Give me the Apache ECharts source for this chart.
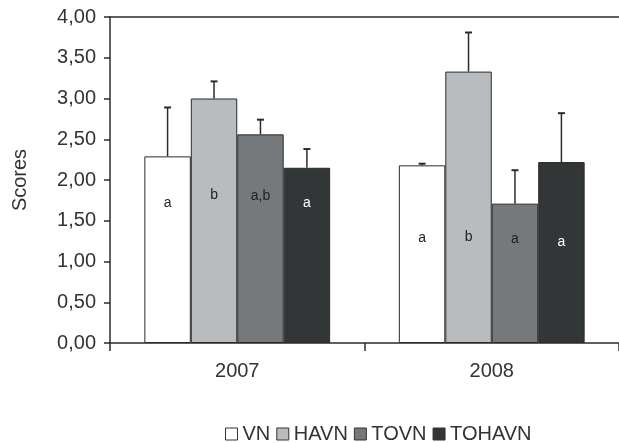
<!DOCTYPE html>
<html>
<head>
<meta charset="utf-8">
<script src="https://cdn.jsdelivr.net/npm/echarts@6/dist/echarts.min.js"></script>
<style>
  html, body { margin: 0; padding: 0; background: #fff; }
  #main { width: 619px; height: 443px; }
</style>
</head>
<body>
<div id="main"></div>
<script>
// jaren + groepen
var years = ['2007', '2008'];
var groups = ['VN', 'HAVN', 'TOVN', 'TOHAVN'];
var colors = ['#ffffff', '#b9bcbe', '#76797b', '#323637'];

// gemiddelde scores per groep (2007, 2008)
var meanVN = [2.29, 2.18];
var meanHAVN = [3.00, 3.33];
var meanTOVN = [2.56, 1.71];
var meanTOHAVN = [2.15, 2.22];

// bovenkant foutbalk
var errVN = [2.89, 2.20];
var errHAVN = [3.21, 3.81];
var errTOVN = [2.74, 2.12];
var errTOHAVN = [2.38, 2.82];

// letters (significantie) en hoogte waarop ze staan
var lettersVN = ['a', 'a'];
var lettersHAVN = ['b', 'b'];
var lettersTOVN = ['a,b', 'a'];
var lettersTOHAVN = ['a', 'a'];
var letterLevel = [[1.72, 1.29], [1.81, 1.30], [1.80, 1.27], [1.71, 1.24]];

var yTicks = [0, 0.5, 1, 1.5, 2, 2.5, 3, 3.5, 4];

var means = [meanVN, meanHAVN, meanTOVN, meanTOHAVN];
var errs = [errVN, errHAVN, errTOVN, errTOHAVN];
var letters = [lettersVN, lettersHAVN, lettersTOVN, lettersTOHAVN];

var catGap = 0.27;
var fontName = 'Liberation Sans';

function errorSeries(i) {
    var data = [];
    for (var c = 0; c < years.length; c++) {
        data.push([c, means[i][c], errs[i][c], letterLevel[i][c]]);
    }
    return {
        type: 'custom',
        name: groups[i] + '_err',
        z: 5,
        silent: true,
        data: data,
        renderItem: function (params, api) {
            var c = api.value(0);
            var bw = api.size([1, 0])[0] * (1 - catGap) / groups.length;
            var base = api.coord([c, api.value(1)]);
            var top = api.coord([c, api.value(2)]);
            var lab = api.coord([c, api.value(3)]);
            var x = base[0] + (i - (groups.length - 1) / 2) * bw;
            var stroke = { stroke: '#2b2b2b', lineWidth: 1.5 };
            return {
                type: 'group',
                children: [
                    { type: 'line', shape: { x1: x, y1: base[1], x2: x, y2: top[1] }, style: stroke },
                    { type: 'line', shape: { x1: x - 3.5, y1: top[1], x2: x + 3.5, y2: top[1] }, style: { stroke: '#2b2b2b', lineWidth: 2 } },
                    {
                        type: 'text',
                        x: x, y: lab[1],
                        style: {
                            text: letters[i][c],
                            fill: i === 3 ? '#ffffff' : '#222',
                            font: '14px "Liberation Sans"',
                            align: 'center',
                            verticalAlign: 'middle'
                        }
                    }
                ]
            };
        }
    };
}

var series = [];
for (var i = 0; i < groups.length; i++) {
    series.push({
        name: groups[i],
        type: 'bar',
        barGap: 0,
        barCategoryGap: (catGap * 100) + '%',
        data: means[i],
        itemStyle: { color: colors[i], borderColor: '#2b2b2b', borderWidth: 1 }
    });
}
for (var j = 0; j < groups.length; j++) {
    series.push(errorSeries(j));
}

var chart = echarts.init(document.getElementById('main'));
chart.setOption({
    animation: false,
    textStyle: { fontFamily: fontName },
    grid: { left: 110, top: 17, width: 515, height: 326 },
    legend: {
        data: groups,
        left: 220,
        top: 419,
        itemWidth: 12,
        itemHeight: 12,
        itemGap: 6,
        icon: 'rect',
        itemStyle: { borderColor: '#333', borderWidth: 1 },
        textStyle: { fontSize: 20, color: '#333', fontFamily: fontName }
    },
    xAxis: [{
        type: 'category',
        data: years,
        axisLine: { lineStyle: { color: '#2b2b2b', width: 1.5 } },
        axisTick: { show: true, length: 8, lineStyle: { color: '#2b2b2b', width: 1.5 } },
        axisLabel: { fontSize: 20, color: '#333', margin: 18, fontFamily: fontName }
    }, {
        type: 'category',
        position: 'top',
        data: years,
        axisLine: { lineStyle: { color: '#2b2b2b', width: 1.5 } },
        axisTick: { show: false },
        axisLabel: { show: false }
    }],
    yAxis: {
        type: 'value',
        min: yTicks[0],
        max: yTicks[yTicks.length - 1],
        interval: 0.5,
        name: 'Scores',
        nameLocation: 'middle',
        nameGap: 80,
        nameTextStyle: { fontSize: 20, color: '#333', fontFamily: fontName },
        axisLine: { show: true, lineStyle: { color: '#2b2b2b', width: 1.5 } },
        axisTick: { show: true, length: 6, lineStyle: { color: '#2b2b2b', width: 1.5 } },
        splitLine: { show: false },
        axisLabel: {
            fontSize: 20,
            color: '#333',
            margin: 14,
            fontFamily: fontName,
            formatter: function (v) { return v.toFixed(2).replace('.', ','); }
        }
    },
    series: series
});
</script>
</body>
</html>
